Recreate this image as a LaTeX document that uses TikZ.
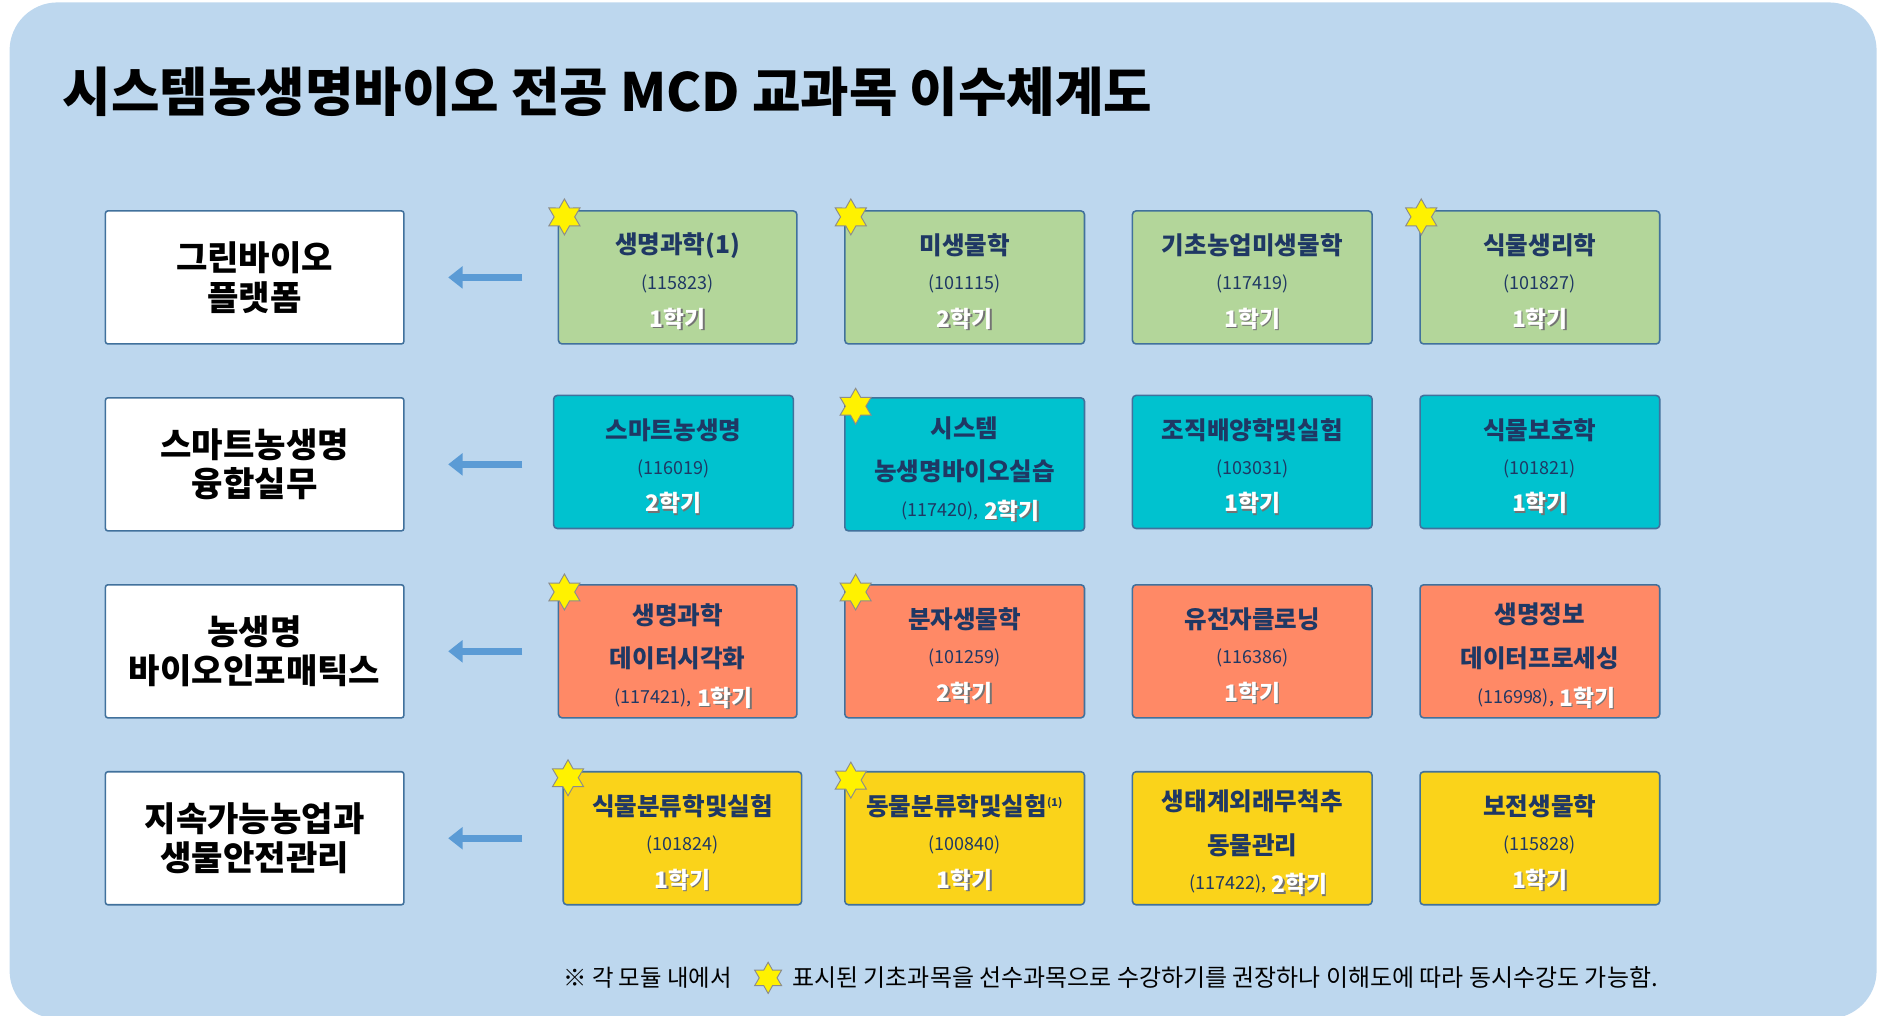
\documentclass[tikz,border=0pt]{standalone}
\usepackage{fontspec}
\setmainfont{Noto Sans CJK KR}
\usetikzlibrary{shapes.geometric,arrows.meta,calc}
\definecolor{bg}{HTML}{BDD7EE}
\definecolor{bord}{HTML}{41719C}
\definecolor{navy}{HTML}{1F3864}
\definecolor{cgreen}{HTML}{B3D69A}
\definecolor{ccyan}{HTML}{00C2CF}
\definecolor{corange}{HTML}{FF8966}
\definecolor{cyellow}{HTML}{FAD31A}
\definecolor{arr}{HTML}{5B9BD5}
\tikzset{
 modbox/.style={draw=bord,line width=1.3pt,fill=white,rounded corners=2pt},
 cbox/.style={draw=bord,line width=1.3pt,rounded corners=3pt},
 ctitle/.style={font=\fontsize{20.5}{20.5}\selectfont\bfseries,text=navy,inner sep=0pt},
 ccode/.style={font=\fontsize{15}{15}\selectfont,text=navy,inner sep=0pt},
 csem/.style={font=\fontsize{19}{19}\selectfont\bfseries,text=white,inner sep=0pt},
 cshadow/.style={font=\fontsize{19}{19}\selectfont\bfseries,text=black!55,inner sep=0pt},
 mlabel/.style={font=\fontsize{28.5}{33}\selectfont\bfseries,align=center,inner sep=0pt},
 starmark/.style={star,star points=6,star point ratio=1.75,minimum size=30pt,inner sep=0pt,fill=yellow,draw=black!45,line width=0.8pt},
 larrow/.style={arr,line width=6pt,-{Triangle[length=12pt,width=18pt]}}
}
\newcommand{\cbx}[6]{\path[cbox,fill=#6] (#2,#3) rectangle (#4,#5);
 \coordinate (#1) at ({(#2+#4)/2},#3);}
\newcommand{\sem}[3]{\node[cshadow] at ($(#1)+(1.2,#2+1.2)$) {#3};\node[csem] at ($(#1)+(0,#2)$) {#3};}
\newcommand{\codesem}[3]{\node[ccode,anchor=east] at ($(#1)+(12,94)$) {#2,};
 \node[cshadow,anchor=west] at ($(#1)+(17.2,95.2)$) {#3};
 \node[csem,anchor=west] at ($(#1)+(16,94)$) {#3};}
\begin{document}
\begin{tikzpicture}[x=1pt,y=-1pt]
\useasboundingbox (0,0) rectangle (1568,847);
\fill[bg,rounded corners=40pt] (8,2) rectangle (1566,850);
\node[anchor=base west,inner sep=0pt,font=\fontsize{44}{44}\selectfont\bfseries] (title) at (52,93) {시스템농생명바이오 전공 MCD 교과목 이수체계도};
\foreach \n/\ya/\yb/\t in {m1/176/287/{그린바이오\\플랫폼},m2/332/443/{스마트농생명\\융합실무},m3/488/599/{농생명\\바이오인포매틱스},m4/644/755/{지속가능농업과\\생물안전관리}}{
 \path[modbox] (88,\ya) rectangle (337,\yb);
 \node[mlabel] (\n) at (212.5,{(\ya+\yb)/2}) {\t};
 \coordinate (\n a) at (436,{(\ya+\yb)/2});
 \coordinate (\n b) at (374,{(\ya+\yb)/2});
 \draw[larrow] (\n a) -- (\n b);
}
% row 1
\cbx{a1}{466}{176}{665}{287}{cgreen}
\cbx{a2}{705}{176}{905}{287}{cgreen}
\cbx{a3}{945}{176}{1145}{287}{cgreen}
\cbx{a4}{1185}{176}{1385}{287}{cgreen}
\node[ctitle] at ($(a1)+(0,29)$) {생명과학(1)};
\node[ctitle] at ($(a2)+(0,29)$) {미생물학};
\node[ctitle] at ($(a3)+(0,29)$) {기초농업미생물학};
\node[ctitle] at ($(a4)+(0,29)$) {식물생리학};
\node[ccode] at ($(a1)+(0,61)$) {(115823)};
\node[ccode] at ($(a2)+(0,61)$) {(101115)};
\node[ccode] at ($(a3)+(0,61)$) {(117419)};
\node[ccode] at ($(a4)+(0,61)$) {(101827)};
\sem{a1}{90}{1학기}\sem{a2}{90}{2학기}\sem{a3}{90}{1학기}\sem{a4}{90}{1학기}
% row 2
\cbx{b1}{462}{330}{662}{441}{ccyan}
\cbx{b2}{705}{332}{905}{443}{ccyan}
\cbx{b3}{945}{330}{1145}{441}{ccyan}
\cbx{b4}{1185}{330}{1385}{441}{ccyan}
\node[ctitle] at ($(b1)+(0,29)$) {스마트농생명};
\node[ctitle] at ($(b2)+(0,25)$) {시스템};
\node[ctitle] at ($(b2)+(0,61)$) {농생명바이오실습};
\node[ctitle] at ($(b3)+(0,29)$) {조직배양학및실험};
\node[ctitle] at ($(b4)+(0,29)$) {식물보호학};
\node[ccode] at ($(b1)+(0,61)$) {(116019)};
\node[ccode] at ($(b3)+(0,61)$) {(103031)};
\node[ccode] at ($(b4)+(0,61)$) {(101821)};
\sem{b1}{90}{2학기}\sem{b3}{90}{1학기}\sem{b4}{90}{1학기}
\codesem{b2}{(117420)}{2학기}
% row 3
\cbx{c1}{466}{488}{665}{599}{corange}
\cbx{c2}{705}{488}{905}{599}{corange}
\cbx{c3}{945}{488}{1145}{599}{corange}
\cbx{c4}{1185}{488}{1385}{599}{corange}
\node[ctitle] at ($(c1)+(0,25)$) {생명과학};
\node[ctitle] at ($(c1)+(0,61)$) {데이터시각화};
\node[ctitle] at ($(c2)+(0,29)$) {분자생물학};
\node[ctitle] at ($(c3)+(0,29)$) {유전자클로닝};
\node[ctitle] at ($(c4)+(0,25)$) {생명정보};
\node[ctitle] at ($(c4)+(0,61)$) {데이터프로세싱};
\node[ccode] at ($(c2)+(0,61)$) {(101259)};
\node[ccode] at ($(c3)+(0,61)$) {(116386)};
\sem{c2}{90}{2학기}\sem{c3}{90}{1학기}
\codesem{c1}{(117421)}{1학기}
\codesem{c4}{(116998)}{1학기}
% row 4
\cbx{d1}{470}{644}{669}{755}{cyellow}
\cbx{d2}{705}{644}{905}{755}{cyellow}
\cbx{d3}{945}{644}{1145}{755}{cyellow}
\cbx{d4}{1185}{644}{1385}{755}{cyellow}
\node[ctitle] at ($(d1)+(0,29)$) {식물분류학및실험};
\node[ctitle] at ($(d2)+(0,29)$) {동물분류학및실험\textsuperscript{\fontsize{9}{9}\selectfont(1)}};
\node[ctitle] at ($(d3)+(0,25)$) {생태계외래무척추};
\node[ctitle] at ($(d3)+(0,61)$) {동물관리};
\node[ctitle] at ($(d4)+(0,29)$) {보전생물학};
\node[ccode] at ($(d1)+(0,61)$) {(101824)};
\node[ccode] at ($(d2)+(0,61)$) {(100840)};
\node[ccode] at ($(d4)+(0,61)$) {(115828)};
\sem{d1}{90}{1학기}\sem{d2}{90}{1학기}\sem{d4}{90}{1학기}
\codesem{d3}{(117422)}{2학기}
\foreach \sx/\sy [count=\i] in {471/181,710/181,1186/181,714/339,471/494,714/494,474/649,710/651}
 \node[starmark] (s\i) at (\sx,\sy) {};
\node[anchor=base west,inner sep=0pt,font=\fontsize{19.5}{19.5}\selectfont] (fn1) at (470,823) {※ 각 모듈 내에서};
\node[starmark,minimum size=26pt] (fs) at (641,816) {};
\node[anchor=base west,inner sep=0pt,font=\fontsize{20}{20}\selectfont] (fn2) at (661,823) {표시된 기초과목을 선수과목으로 수강하기를 권장하나 이해도에 따라 동시수강도 가능함.};
\end{tikzpicture}
\end{document}
